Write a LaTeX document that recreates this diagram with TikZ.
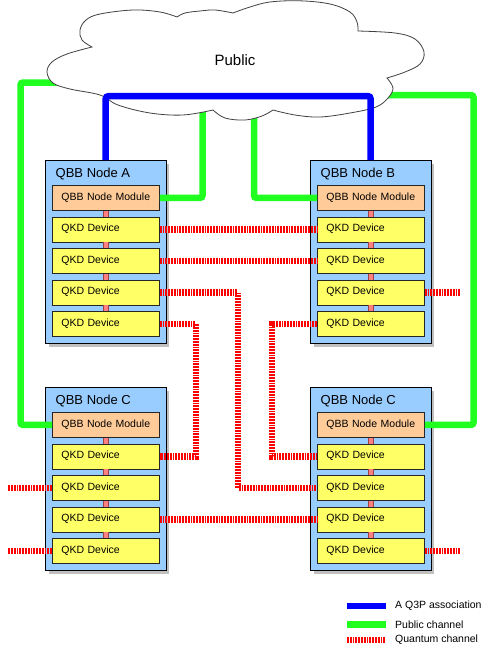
\documentclass[tikz,border=0pt]{standalone}
\usepackage{fontspec}
\setmainfont{Liberation Sans}
\usetikzlibrary{shadows,calc}
\definecolor{boxblue}{HTML}{99CCFF}
\definecolor{modpeach}{HTML}{FFCC99}
\definecolor{qkdyellow}{HTML}{FFFF66}
\definecolor{linkpink}{HTML}{FF8080}
\definecolor{linkdark}{HTML}{A04040}
\definecolor{pubgreen}{RGB}{32,255,32}
\definecolor{q3pblue}{HTML}{0000FF}
\definecolor{shadowgray}{HTML}{C0C0C0}
\definecolor{cloudline}{HTML}{404040}
\begin{document}
\begin{tikzpicture}[x=1pt,y=-1pt,
  outerbox/.style={draw=black, line width=0.9pt, fill=boxblue, minimum width=120.5pt, minimum height=183pt, inner sep=0pt, anchor=north west,
     drop shadow={shadow xshift=3.5pt, shadow yshift=-3.5pt, fill=shadowgray, opacity=1}},
  nodetitle/.style={anchor=base west, inner sep=0pt, font=\fontsize{13}{15}\selectfont},
  devbox/.style={draw=black!85, line width=0.8pt, minimum width=107pt, minimum height=25pt, text width=89pt, align=left,
     inner xsep=9pt, inner ysep=0pt, text height=7.5pt, text depth=3pt, font=\fontsize{10.5}{12}\selectfont, anchor=north west},
  modbox/.style={devbox, fill=modpeach},
  qkdbox/.style={devbox, fill=qkdyellow},
  linkbar/.style={draw=linkdark, line width=0.5pt, double=linkpink, double distance=4.5pt},
  q3pline/.style={draw=q3pblue, line width=6.5pt, rounded corners=3pt},
  publine/.style={draw=pubgreen, line width=6.5pt, rounded corners=2.5pt},
  quantline/.style={draw=red, line width=6.8pt, dash pattern=on 1.8pt off 1pt},
  legendtext/.style={anchor=west, inner sep=0pt, font=\fontsize{10.5}{12}\selectfont},
  cloudtext/.style={inner sep=0pt, font=\fontsize{15}{17}\selectfont}
]
\fill[white] (0,0) rectangle (495,654);

% QBB nodes
\foreach \n/\x/\y/\t in {A/45/160/A, B/310/160/B, C/45/387/C, D/310/387/C} {
  \node[outerbox] (\n) at (\x,\y) {};
  \node[nodetitle] (\n t) at ($(\n.north west)+(10.5,17)$) {QBB Node \t};
  \node[modbox] (\n0) at ($(\n.north west)+(7,25)$) {QBB Node Module};
  \foreach \i in {1,...,4}
    \node[qkdbox] (\n\i) at ($(\n.north west)+(7,56.5+31.5*\i-31.5)$) {QKD Device};
  \foreach \i/\j in {0/1,1/2,2/3,3/4}
    \draw[linkbar] (\n\i.south) -- (\n\j.north);
}

% public channels
\coordinate (g1) at (20.5,82.5);
\coordinate (g1e) at (80,82.5);
\coordinate (g2) at (202.5,112);
\coordinate (g3) at (254,118);
\coordinate (g4) at (473.5,95);
\coordinate (g4e) at (380,95);
\draw[publine] (C0.west) -| (g1) -- (g1e);
\draw[publine] (A0.east) -| (g2);
\draw[publine] (g3) |- (B0.west);
\draw[publine] (D0.east) -| (g4) -- (g4e);

% cloud
\filldraw[fill=white, draw=cloudline, line width=0.8pt]
  plot[smooth, tension=0.6] coordinates {(92,47) (82,40) (80,30) (86,20) (100,14) (133,10) (160,12) (177,17)}
  -- plot[smooth, tension=0.6] coordinates {(177,17) (185,13) (200,11) (215,10) (233,13)}
  -- plot[smooth, tension=0.6] coordinates {(233,13) (250,7) (270,2) (300,0.8) (330,4) (350,12) (357,22) (358,31)}
  -- plot[smooth, tension=0.6] coordinates {(358,31) (395,33) (415,39) (424,52) (420,64) (405,72) (387,78)}
  -- plot[smooth, tension=0.6] coordinates {(387,78) (393,88) (388,98) (376,107) (350,113) (320,117) (295,115) (273,110)}
  -- plot[smooth, tension=0.6] coordinates {(273,110) (262,116) (245,120) (225,118) (213,110)}
  -- plot[smooth, tension=0.6] coordinates {(213,110) (183,115) (150,113) (118,105) (100,95) (70,89) (53,83) (47,72) (52,62) (67,54) (92,47)}
  -- cycle;
\node[cloudtext] (public) at (235,60) {Public};

% Q3P association
\coordinate (q) at (0,96);
\draw[q3pline] (A.north) -- (A.north |- q) -| (B.north);

% quantum channels
\coordinate (xr3) at (238,0);
\coordinate (xr4) at (196,0);
\coordinate (xr5) at (272,0);
\coordinate (stubL) at (8,0);
\coordinate (stubR) at (460,0);
\draw[quantline] (A1.east) -- (B1.west);
\draw[quantline] (A2.east) -- (B2.west);
\draw[quantline] (A3.east) -- (A3.east -| xr3) |- (D2.west);
\draw[quantline] (A4.east) -- (A4.east -| xr4) |- (C1.east);
\draw[quantline] (B4.west) -- (B4.west -| xr5) |- (D1.west);
\draw[quantline] (B3.east) -- (B3.east -| stubR);
\draw[quantline] (C2.west) -- (C2.west -| stubL);
\draw[quantline] (C3.east) -- (D3.west);
\draw[quantline] (C4.west) -- (C4.west -| stubL);
\draw[quantline] (D4.east) -- (D4.east -| stubR);

% legend
\coordinate (l1a) at (347,606); \coordinate (l1b) at (386,606);
\coordinate (l2a) at (347,624.5); \coordinate (l2b) at (386,624.5);
\coordinate (l3a) at (347,640); \coordinate (l3b) at (386,640);
\draw[q3pline] (l1a) -- (l1b);
\draw[publine] (l2a) -- (l2b);
\draw[quantline] (l3a) -- (l3b);
\node[legendtext] (t1) at (395,606) {A Q3P association};
\node[legendtext] (t2) at (395,624.5) {Public channel};
\node[legendtext] (t3) at (395,640) {Quantum channel};
\end{tikzpicture}
\end{document}
